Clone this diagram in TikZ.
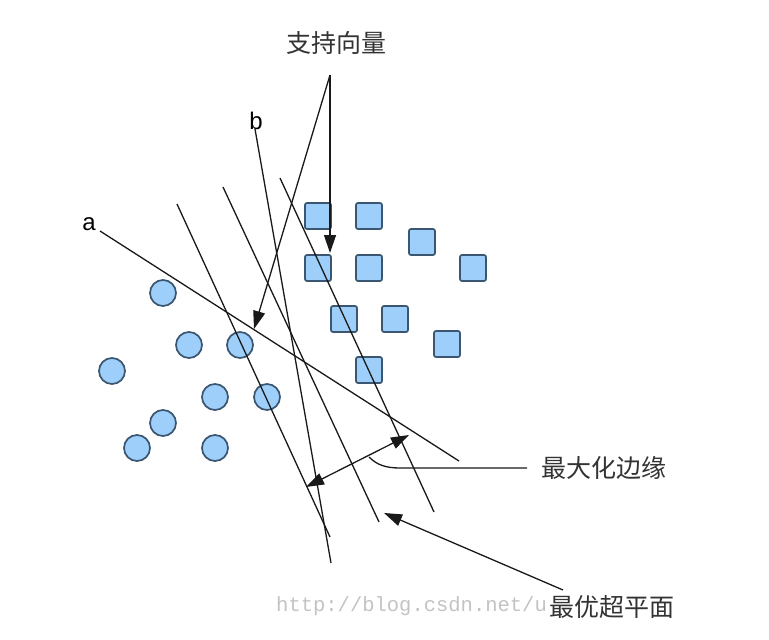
\documentclass[tikz,border=0pt]{standalone}
\usepackage{fontspec}
\setmainfont{Liberation Sans}
\newfontfamily\cjk{Noto Sans CJK SC}
\newfontfamily\wmfont{Liberation Mono}
\usetikzlibrary{arrows.meta}
\definecolor{ptfill}{RGB}{158,207,250}
\definecolor{ptline}{RGB}{58,86,112}
\definecolor{wm}{RGB}{195,195,195}
\begin{document}
\begin{tikzpicture}[x=1pt,y=-1pt,
  dot/.style={circle,draw=ptline,fill=ptfill,line width=1.7pt,minimum size=26pt,inner sep=0pt},
  sq/.style={rectangle,rounded corners=2pt,draw=ptline,fill=ptfill,line width=1.7pt,minimum size=26pt,inner sep=0pt},
  ln/.style={line width=1.3pt,draw=black!90},
  tip/.tip={Triangle[length=18pt,width=12pt]},
  arr/.style={ln,-tip},
  cjklabel/.style={font=\cjk\fontsize{25}{25}\selectfont,text=black!80,inner sep=0pt},
  letter/.style={font=\fontsize{24}{24}\selectfont,inner sep=0pt}]
\useasboundingbox[fill=white] (0,0) rectangle (769,640);
% watermark
\node[font=\wmfont\fontsize{20.5}{20.5}\selectfont,text=wm,anchor=west,inner sep=0pt] (wmk) at (276,606) {http://blog.csdn.net/u};
% circles
\node[dot] (c1) at (163,293) {};
\node[dot] (c2) at (189,345) {};
\node[dot] (c3) at (240,345) {};
\node[dot] (c4) at (112,371) {};
\node[dot] (c5) at (215,397) {};
\node[dot] (c6) at (267,397) {};
\node[dot] (c7) at (163,423) {};
\node[dot] (c8) at (137,448) {};
\node[dot] (c9) at (215,448) {};
% squares
\node[sq] (s1) at (318,216) {};
\node[sq] (s2) at (369,216) {};
\node[sq] (s3) at (422,242) {};
\node[sq] (s4) at (318,268) {};
\node[sq] (s5) at (369,268) {};
\node[sq] (s6) at (473,268) {};
\node[sq] (s7) at (344,319) {};
\node[sq] (s8) at (395,319) {};
\node[sq] (s9) at (447,344) {};
\node[sq] (s10) at (369,370) {};
% labels
\node[cjklabel] (sv) at (336,43) {支持向量};
\node[letter] (la) at (89,224) {a};
\node[letter] (lb) at (256,121) {b};
\node[cjklabel,anchor=west] (mm) at (541,468) {最大化边缘};
\node[cjklabel,anchor=west] (oh) at (549,607) {最优超平面};
% line end points
\coordinate (a1) at (100,231);
\coordinate (a2) at (459,461);
\coordinate (b1) at (255,129);
\coordinate (b2) at (331,563);
\coordinate (p1) at (177,204);
\coordinate (p2) at (330,537);
\coordinate (h1) at (223,187);
\coordinate (h2) at (379,522);
\coordinate (q1) at (280,178);
\coordinate (q2) at (434,512);
\draw[ln] (a1) -- (a2);
\draw[ln] (b1) -- (b2);
\draw[ln] (p1) -- (p2);
\draw[ln] (h1) -- (h2);
\draw[ln] (q1) -- (q2);
% support vector arrows
\coordinate (apex) at (330,75);
\coordinate (svt1) at (330,253);
\coordinate (svt2) at (254,329);
\draw[arr] (apex) -- (svt1);
\draw[arr] (apex) -- (svt2);
% maximum margin
\coordinate (m1) at (306,487);
\coordinate (m2) at (409,435);
\draw[ln,tip-tip] (m1) -- (m2);
\coordinate (mc) at (369,457);
\coordinate (mh) at (400,468);
\coordinate (me) at (527,468);
\draw[ln] (mc) .. controls (377,465) and (386,468) .. (mh) -- (me);
% optimal hyperplane
\coordinate (ot) at (384,513);
\coordinate (os) at (563,590);
\draw[arr] (os) -- (ot);
\end{tikzpicture}
\end{document}
